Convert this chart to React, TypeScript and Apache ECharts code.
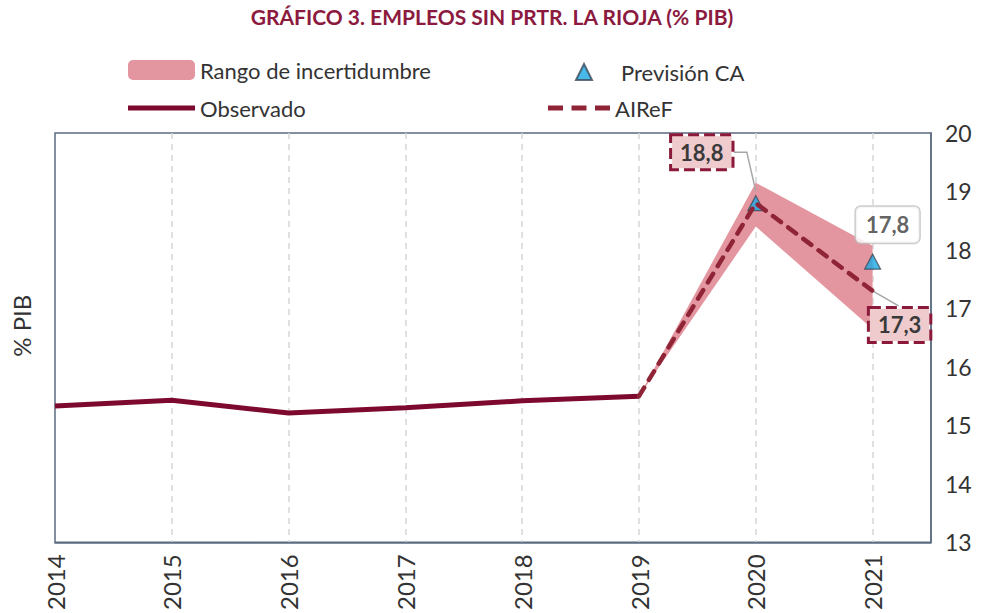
import React, { useEffect, useRef } from 'react';
import * as echarts from 'echarts';

const titleText = 'GRÁFICO 3. EMPLEOS SIN PRTR. LA RIOJA (% PIB)';
const obsYears = [2014, 2015, 2016, 2017, 2018, 2019];
const observado = [15.33, 15.43, 15.21, 15.3, 15.42, 15.5];
const fcYears = [2019, 2020, 2021];
const airef = [15.5, 18.8, 17.3];
const bandLower = [15.5, 18.4, 16.65];
const bandUpper = [15.5, 19.15, 18.07];
const prevYears = [2020, 2021];
const prevision = [18.8, 17.8];
const yMin = 13;
const yMax = 20;
const xMin = 2014;
const xMax = 2021.5;

const FONT = 'Lato, "Open Sans", sans-serif';
const TXT = '#333333';
const fmt = (v: number) => v.toFixed(1).replace('.', ',');

export default function App() {
  const ref = useRef<HTMLDivElement>(null);
  useEffect(() => {
    document.body.style.margin = '0';
    const chart = echarts.init(ref.current!, null, { renderer: 'svg' });
    const dashedLabel = (offset: number[]) => ({
      show: true,
      position: 'inside',
      offset,
      formatter: (p: any) => fmt(p.value[1]),
      fontFamily: FONT,
      fontSize: 22,
      fontWeight: 'bold',
      color: '#3a3a3a',
      backgroundColor: '#EFCBCE',
      borderColor: '#8B1A3A',
      borderWidth: 3,
      borderType: [11, 5],
      padding: [6, 8, 4, 8],
    });
    const legendText = { fontFamily: FONT, fontSize: 22, color: TXT };
    const legendBase = { orient: 'horizontal', selectedMode: false, padding: 0 };
    const option: any = {
      animation: false,
      backgroundColor: '#ffffff',
      textStyle: { fontFamily: FONT },
      title: {
        text: titleText,
        left: 'center',
        top: 6,
        padding: 0,
        textStyle: { fontFamily: FONT, fontSize: 21, fontWeight: 'bold', color: '#8B1A3E' },
      },
      legend: [
        { ...legendBase, textStyle: legendText, data: [{ name: 'Rango de incertidumbre', icon: 'roundRect' }], left: 128, top: 59, itemWidth: 67, itemHeight: 20 },
        { ...legendBase, textStyle: { ...legendText, padding: [0, 0, 0, 24] }, data: [{ name: 'Previsión CA', icon: 'triangle' }], left: 575, top: 61, itemWidth: 16, itemHeight: 16 },
        { ...legendBase, textStyle: legendText, data: [{ name: 'Observado', icon: 'rect' }], left: 128, top: 97, itemWidth: 67, itemHeight: 5 },
        {
          ...legendBase,
          textStyle: legendText,
          data: [
            {
              name: 'AIReF',
              icon: 'path://M0,0h15v5h-15z M23.5,0h15v5h-15z M47,0h15v5h-15z',
              itemStyle: { color: '#8E2436', borderWidth: 0 },
            },
          ],
          left: 548,
          top: 97,
          itemWidth: 62,
          itemHeight: 5,
        },
      ],
      grid: {
        left: 55,
        right: 53,
        top: 133,
        bottom: 68,
        show: true,
        borderColor: '#5B6B80',
        borderWidth: 1.5,
        containLabel: false,
      },
      xAxis: {
        type: 'value',
        min: xMin,
        max: xMax,
        interval: 1,
        axisLine: { show: true, lineStyle: { color: '#5B6B80', width: 1.5 } },
        axisTick: { show: false },
        splitLine: { show: true, showMinLine: false, showMaxLine: false, lineStyle: { color: '#D6D6D6', type: [6, 5], width: 1.5 } },
        axisLabel: {
          rotate: 90,
          margin: 12,
          fontFamily: FONT,
          fontSize: 24,
          color: TXT,
          showMaxLabel: false,
          formatter: (v: number) => (Number.isInteger(v) ? String(v) : ''),
        },
      },
      yAxis: [
        {
          type: 'value',
          position: 'right',
          min: yMin,
          max: yMax,
          interval: 1,
          axisLine: { show: true, lineStyle: { color: '#5B6B80', width: 1.5 } },
          axisTick: { show: false },
          splitLine: { show: false },
          axisLabel: { fontFamily: FONT, fontSize: 23, color: TXT, margin: 14 },
        },
        {
          type: 'value',
          position: 'left',
          min: yMin,
          max: yMax,
          interval: 1,
          axisLine: { show: false },
          axisTick: { show: false },
          splitLine: { show: false },
          axisLabel: { show: false },
          name: '% PIB',
          nameLocation: 'middle',
          nameGap: 22,
          nameTextStyle: { fontFamily: FONT, fontSize: 24, color: TXT, padding: [0, 0, 0, 24] },
        },
      ],
      series: [
        {
          name: 'Rango de incertidumbre',
          type: 'custom',
          color: '#E3969F',
          itemStyle: { color: '#E3969F' },
          renderItem: (params: any, api: any) => {
            if (params.dataIndex !== 0) return null;
            const upper = fcYears.map((x, i) => api.coord([x, bandUpper[i]]));
            const lower = fcYears.map((x, i) => api.coord([x, bandLower[i]])).reverse();
            return {
              type: 'polygon',
              shape: { points: [...upper, ...lower] },
              style: { fill: '#E3969F', stroke: null },
            };
          },
          data: fcYears.map((x, i) => [x, bandLower[i], bandUpper[i]]),
          encode: { x: 0, y: [1, 2] },
          z: 1,
        },
        {
          name: 'Observado',
          type: 'line',
          symbol: 'none',
          color: '#7D0A2E',
          lineStyle: { color: '#7D0A2E', width: 5 },
          data: obsYears.map((x, i) => [x, observado[i]]),
          z: 3,
        },
        {
          name: 'Previsión CA',
          type: 'scatter',
          symbol: 'triangle',
          symbolSize: [16, 15],
          color: '#1AA7E3',
          itemStyle: { color: '#1AA7E3', borderColor: '#3B4A5A', borderWidth: 1.2 },
          data: prevYears.map((x, i) => {
            const item: any = { value: [x, prevision[i]] };
            if (i === 1) {
              item.label = {
                show: true,
                position: 'inside',
                offset: [15, -37],
                formatter: (p: any) => fmt(p.value[1]),
                fontFamily: FONT,
                fontSize: 22,
                fontWeight: 'bold',
                color: '#3a3a3a',
                backgroundColor: '#ffffff',
                borderColor: '#BFBFBF',
                borderWidth: 1.5,
                borderRadius: 5,
                padding: [8, 10, 6, 10],
              };
            }
            return item;
          }),
          z: 3,
        },
        {
          name: 'AIReF',
          type: 'line',
          symbol: 'circle',
          symbolSize: 2,
          showSymbol: true,
          color: '#8E2436',
          itemStyle: { color: 'rgba(0,0,0,0)', borderWidth: 0 },
          lineStyle: { color: '#8E2436', width: 4.5, type: [10, 9], cap: 'round' },
          data: fcYears.map((x, i) => {
            const item: any = { value: [x, airef[i]] };
            if (i === 1) item.label = dashedLabel([-54, -51]);
            else if (i === 2) item.label = dashedLabel([27, 34]);
            return item;
          }),
          z: 4,
        },
      ],
    };
    chart.setOption(option);

    const p1 = chart.convertToPixel({ xAxisIndex: 0, yAxisIndex: 0 }, [fcYears[1], airef[1]]) as number[];
    const p2 = chart.convertToPixel({ xAxisIndex: 0, yAxisIndex: 0 }, [fcYears[2], airef[2]]) as number[];
    const lineStyle = { stroke: '#A6A6A6', lineWidth: 1.5, fill: null };
    chart.setOption({
      graphic: [
        {
          type: 'polyline',
          z: 2,
          shape: { points: [[p1[0] - 22, p1[1] - 51], [p1[0] - 9, p1[1] - 51], [p1[0], p1[1] - 12]] },
          style: lineStyle,
        },
        {
          type: 'polyline',
          z: 2,
          shape: { points: [[p2[0], p2[1]], [p2[0] + 26, p2[1] + 15]] },
          style: lineStyle,
        },
      ],
    });
    return () => chart.dispose();
  }, []);
  return <div ref={ref} style={{ position: 'fixed', left: 0, top: 0, width: 984, height: 613 }} />;
}
